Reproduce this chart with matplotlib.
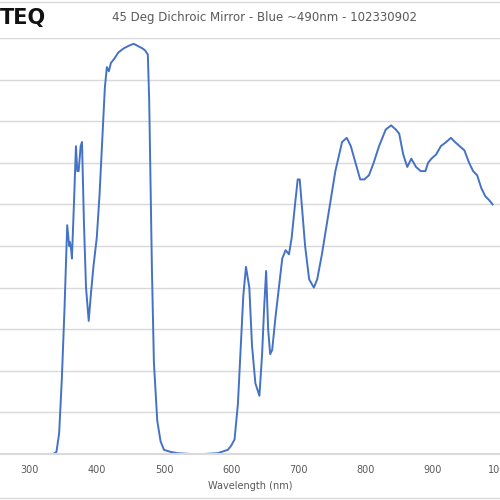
import matplotlib
matplotlib.use("Agg")
import matplotlib.pyplot as plt
from matplotlib.lines import Line2D

# wavelength (nm) and transmission (%)
wavelength = [256, 300, 335, 340, 344, 348, 352, 356, 359, 360, 362, 363, 366, 369, 371, 373,
              376, 378, 381, 384, 388, 391, 395, 400, 404, 408, 412, 415, 418, 421, 426, 432,
              440, 446, 450, 455, 462, 468, 472, 476, 478, 480, 482, 485, 490, 495, 500, 510,
              520, 540, 560, 580, 595, 600, 605, 610, 614, 618, 622, 627, 631, 636, 642, 646,
              649, 652, 655, 658, 661, 666, 671, 676, 681, 686, 690, 695, 699, 702, 705, 710,
              716, 723, 728, 735, 745, 755, 765, 772, 778, 785, 792, 798, 805, 812, 820, 830,
              838, 845, 850, 856, 862, 868, 875, 882, 889, 893, 898, 905, 912, 920, 927, 933,
              940, 947, 954, 960, 966, 972, 978, 984, 989]
transmission = [0, 0, 0, 0.5, 5, 18, 35, 55, 50, 51, 49, 47, 60, 74, 68, 68,
                74, 75, 55, 40, 32, 38, 45, 52, 62, 75, 88, 93, 92, 94, 95, 96.5,
                97.5, 98, 98.3, 98.6, 98, 97.5, 97, 96, 85, 65, 45, 22, 8, 3, 1, 0.5,
                0.2, 0, 0, 0.2, 1, 2, 3.5, 12, 25, 38, 45, 40, 26, 17, 14, 24,
                35, 44, 30, 24, 25, 33, 40, 47, 49, 48, 52, 60, 66, 66, 60, 50,
                42, 40, 42, 48, 58, 68, 75, 76, 74, 70, 66, 66, 67, 70, 74, 78,
                79, 78, 77, 72, 69, 71, 69, 68, 68, 70, 71, 72, 74, 75, 76, 75,
                74, 73, 70, 68, 67, 64, 62, 61, 60]

blue = "#4472C4"
grid_color = "#D9D9D9"
text_color = "#595959"

fig = plt.figure(figsize=(5, 5), dpi=100)
ax = fig.add_axes([0.0, 0.092, 1.0, 0.832])
ax.plot(wavelength, transmission, color=blue, linewidth=1.4)
ax.set_xlim(256, 989)
ax.set_ylim(0, 100)
ax.set_yticks(range(0, 101, 10))
ax.set_xticks(range(300, 1001, 100))
ax.yaxis.grid(True, color=grid_color, linewidth=1)
ax.tick_params(axis="y", left=False, labelleft=False)
ax.tick_params(axis="x", length=0, labelsize=7, labelcolor=text_color, pad=8)
for side in ["left", "right", "top"]:
    ax.spines[side].set_visible(False)
ax.spines["bottom"].set_color(grid_color)
ax.spines["bottom"].set_linewidth(1.5)
ax.set_axisbelow(True)
ax.set_xlabel("Wavelength (nm)", fontsize=7, color=text_color, labelpad=4)

fig.text(0.53, 0.964, "45 Deg Dichroic Mirror - Blue ~490nm - 102330902",
         ha="center", va="center", fontsize=8.5, color=text_color)
fig.text(0.0, 0.964, "TEQ", ha="left", va="center", fontsize=15,
         fontweight="bold", color="#111111")
fig.add_artist(Line2D([0, 1], [0.996, 0.996], color=grid_color, linewidth=1))
fig.add_artist(Line2D([0, 1], [0.004, 0.004], color=grid_color, linewidth=1))

fig.savefig("out.png", dpi=100)
